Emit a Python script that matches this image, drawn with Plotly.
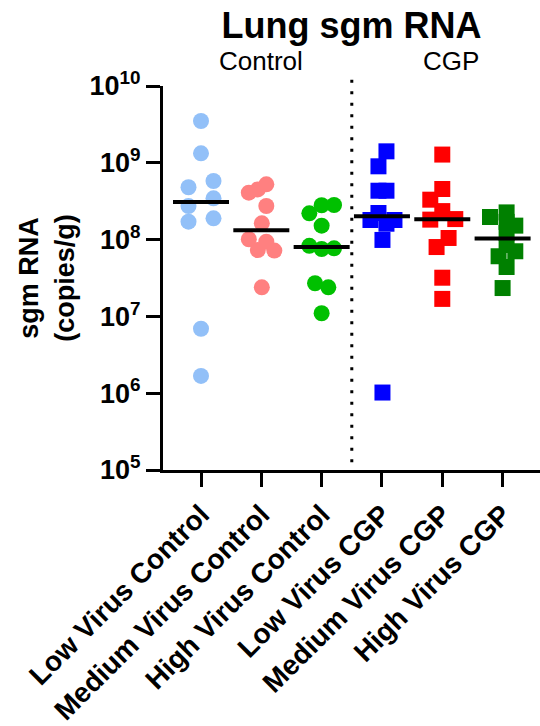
import numpy as np
import plotly.graph_objects as go

# Lung sgm RNA (copies/g) per animal, one list per treatment group
categories = ["Low Virus Control", "Medium Virus Control", "High Virus Control",
              "Low Virus CGP", "Medium Virus CGP", "High Virus CGP"]

low_control = [3.5e9, 1.33e9, 5.8e8, 4.8e8, 3.45e8, 2.74e8, 1.89e8, 1.71e8, 6.9e6, 1.68e6]
medium_control = [5.25e8, 4.5e8, 4.08e8, 2.74e8, 1.63e8, 1.01e8, 9.4e7, 7.3e7, 7.2e7, 2.39e7]
high_control = [2.82e8, 2.8e8, 2.2e8, 1.52e8, 8.3e7, 7.7e7, 7.55e7, 2.7e7, 2.39e7, 1.1e7]
low_cgp = [1.41e9, 9.0e8, 4.33e8, 4.33e8, 2.22e8, 1.8e8, 1.8e8, 1.61e8, 9.9e7, 1.02e6]
medium_cgp = [1.28e9, 4.56e8, 3.31e8, 2.35e8, 1.85e8, 1.82e8, 1.05e8, 8.0e7, 3.19e7, 1.69e7]
high_cgp = [2.26e8, 1.97e8, 1.7e8, 1.52e8, 1.22e8, 8.5e7, 7.05e7, 6.07e7, 4.4e7, 2.34e7]

groups = [low_control, medium_control, high_control, low_cgp, medium_cgp, high_cgp]

# horizontal scatter spread of each point (pixels), so overlapping points stay visible
spread = [
    [0, 0, 12.5, -12.5, 12.5, -12.5, 12.5, -12.5, 0, 0],
    [5, -3.5, -12.5, 5, 0.5, -12.5, 5, -3.5, 13, 0.5],
    [12.4, 0, -12.3, 0, -12.3, 12.4, 0, -6.6, 6.7, 0],
    [4.5, -3.5, -3.5, 4.5, -3.5, -11.5, 12.5, 4.5, 0.5, 0.5],
    [0, 0, -12, 0, 13, -12, 6.3, -5.7, 0, 0],
    [4, -12.6, 4, 12.7, 4, 4, 12.7, -4, 4, 0],
]

colors = ["#92C0F8", "#FF8080", "#00C000", "#0000FF", "#FF0000", "#008000"]
symbols = ["circle", "circle", "circle", "square", "square", "square"]

W, H = 540, 726
margin = dict(l=163, r=0, t=86, b=256)
x_range = [-0.63, 5.62]
px_per_cat = (W - margin["l"] - margin["r"]) / (x_range[1] - x_range[0])

fig = go.Figure()

for i, (vals, offs) in enumerate(zip(groups, spread)):
    xs = [i + o / px_per_cat for o in offs]
    fig.add_trace(go.Scatter(
        x=xs, y=vals, mode="markers",
        marker=dict(symbol=symbols[i], size=16, color=colors[i], line=dict(width=0)),
        showlegend=False, hoverinfo="y",
    ))

# median bars
medians = [float(np.median(g)) for g in groups]
fig.add_trace(go.Scatter(
    x=list(range(len(categories))), y=medians, mode="markers",
    marker=dict(symbol="line-ew", size=40, line=dict(width=4, color="black")),
    showlegend=False, hoverinfo="y",
))

# dotted divider between Control and CGP groups
fig.add_shape(type="line", xref="x", yref="paper", x0=2.5, x1=2.5, y0=0.02, y1=1.02,
              line=dict(color="black", width=3, dash="3px,8.5px"))

fig.add_annotation(x=1, y=1.021, xref="x", yref="paper", text="Control", showarrow=False,
                   yanchor="bottom", font=dict(size=26, color="black"))
fig.add_annotation(x=4.15, y=1.021, xref="x", yref="paper", text="CGP", showarrow=False,
                   yanchor="bottom", font=dict(size=26, color="black"))

fig.update_layout(
    width=W, height=H, margin=margin,
    paper_bgcolor="white", plot_bgcolor="white",
    font=dict(family="Liberation Sans, Arial, sans-serif", color="black"),
    title=dict(text="<b>Lung sgm RNA</b>", x=0.5, xref="paper", xanchor="center",
               y=0.983, yanchor="top", font=dict(size=36)),
)

fig.update_xaxes(
    range=x_range, tickmode="array", tickvals=list(range(len(categories))), ticktext=categories,
    tickangle=-45, tickfont=dict(size=28, weight="bold"), automargin=False,
    showline=True, linecolor="black", linewidth=3,
    ticks="outside", ticklen=14, tickwidth=3, tickcolor="black",
    showgrid=False, zeroline=False,
)

fig.update_yaxes(
    type="log", range=[5, 10], automargin=False,
    tickmode="array", tickvals=[1e5, 1e6, 1e7, 1e8, 1e9, 1e10],
    ticktext=["10<sup>5</sup>", "10<sup>6</sup>", "10<sup>7</sup>", "10<sup>8</sup>",
              "10<sup>9</sup>", "10<sup>10</sup>"],
    tickfont=dict(size=27, weight="bold"),
    showline=True, linecolor="black", linewidth=3,
    ticks="outside", ticklen=14, tickwidth=3, tickcolor="black",
    showgrid=False, zeroline=False,
    title=dict(text="<b>sgm RNA<br>(copies/g)</b>", font=dict(size=27), standoff=8),
)

fig.write_html("out.html")
